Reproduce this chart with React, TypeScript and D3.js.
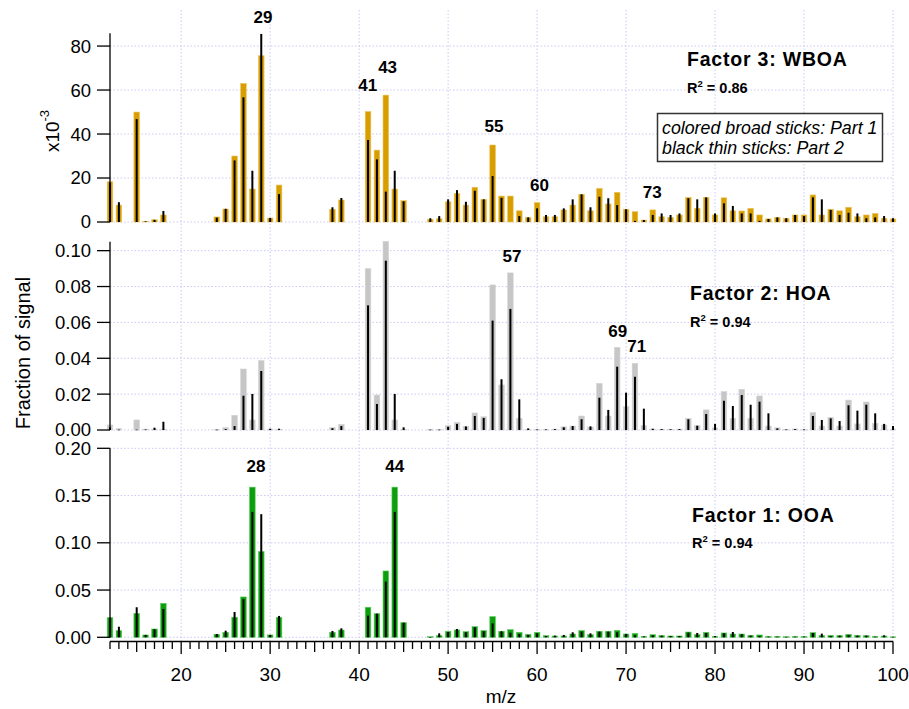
import * as React from "react";
import * as d3 from "d3";

// m/z values that carry a signal (everything else is empty)
const MZ = [
  12, 13, 15, 16, 17, 18, 24, 25, 26, 27, 28, 29, 30, 31, 37, 38, 41, 42, 43, 44, 45,
  48, 49, 50, 51, 52, 53, 54, 55, 56, 57, 58, 59, 60, 61, 62, 63, 64, 65, 66, 67, 68, 69, 70,
  71, 72, 73, 74, 75, 76, 77, 78, 79, 80, 81, 82, 83, 84, 85, 86, 87, 88, 89, 90,
  91, 92, 93, 94, 95, 96, 97, 98, 99, 100,
];

// Factor 3: WBOA (x10^-3)
const WBOA_PART1 = [
  18.3, 7.7, 50, 0.3, 1, 3.2, 2.3, 5.9, 30, 63, 15, 75.6, 1.8, 16.8, 5.8, 10, 50.2, 32.7, 57.7, 15, 9.7,
  1.2, 1.5, 9.2, 13, 7.7, 15.8, 10.3, 35, 11.8, 11.8, 5.1, 2.1, 8.8, 2.4, 2.4, 5.5, 7.7, 12.6, 5.1, 15.3, 8.2, 13.5, 5.8,
  4.7, 0.9, 5.5, 2.4, 2.1, 3.2, 11.2, 6.2, 11.2, 3.2, 11, 5.1, 5, 6.2, 3.2, 1.4, 2.1, 1.7, 3.2, 3.2,
  12.3, 3.2, 5.8, 5.1, 6.7, 2.4, 3.2, 3.9, 1.7, 1.4,
];
const WBOA_PART2 = [
  18, 9, 46.8, 0.3, 1, 5, 2, 6, 28, 56.7, 23.3, 85.5, 1.8, 12.7, 6.7, 10.9, 37.3, 28.5, 13.8, 23.3, 9.4,
  1.7, 2.7, 10.3, 14.5, 9.2, 14.2, 10.3, 20.9, 11, 0, 2.7, 2.1, 6.2, 3.2, 3.2, 6.2, 10.3, 12.6, 6.7, 11.5, 10.8, 7.7, 5.8,
  0.5, 0.9, 3.2, 3.9, 3.2, 3.9, 10.8, 10.3, 11.2, 3.9, 8.5, 7.3, 3.9, 3.9, 0.5, 1.4, 2.1, 1.7, 3.2, 2.7,
  11.2, 10.3, 5.5, 3.2, 4.2, 3.9, 1.7, 2.1, 2.7, 1.7,
];

// Factor 2: HOA
const HOA_PART1 = [
  0.0028, 0.0008, 0.0056, 0.0005, 0.0005, 0.0005, 0.0004, 0.0013, 0.0082, 0.034, 0.0056, 0.0387, 0.0005, 0.0003, 0.0013, 0.0032, 0.09, 0.0195, 0.1052, 0.0056, 0.0003,
  0.0003, 0.0004, 0.0024, 0.0043, 0.002, 0.0095, 0.0074, 0.0809, 0.0251, 0.0876, 0.0065, 0.0003, 0.0003, 0.0003, 0.0005, 0.0018, 0.0022, 0.0078, 0.0017, 0.026, 0.0078, 0.0461, 0.013,
  0.0372, 0.0024, 0.0005, 0.0005, 0.0004, 0.0005, 0.0065, 0.0024, 0.0112, 0.0012, 0.0214, 0.0065, 0.0227, 0.0065, 0.019, 0.0022, 0.0012, 0.0003, 0.0006, 0.0003,
  0.0097, 0.0022, 0.0071, 0.0022, 0.0167, 0.0034, 0.0156, 0.0037, 0.0028, 0.0005,
];
const HOA_PART2 = [
  0.0015, 0.0002, 0.0002, 0.0003, 0.0013, 0.0046, 0.0002, 0.0005, 0.0022, 0.0191, 0.0201, 0.0329, 0.0007, 0.0007, 0.001, 0.0022, 0.0695, 0.0145, 0.0944, 0.0201, 0.0015,
  0.0002, 0.0002, 0.0018, 0.0034, 0.002, 0.0078, 0.0067, 0.061, 0.0283, 0.0675, 0.0171, 0.0009, 0.0003, 0.0003, 0.0005, 0.0015, 0.0022, 0.006, 0.002, 0.018, 0.0112, 0.0353, 0.0208,
  0.0297, 0.0119, 0.0007, 0.0005, 0.0004, 0.0005, 0.006, 0.0024, 0.0089, 0.0034, 0.0163, 0.0134, 0.0195, 0.0141, 0.0158, 0.0093, 0.0009, 0.0003, 0.0005, 0.0003,
  0.0078, 0.0056, 0.0065, 0.005, 0.0138, 0.0108, 0.0141, 0.0093, 0.0034, 0.0022,
];

// Factor 1: OOA
const OOA_PART1 = [
  0.0208, 0.007, 0.0254, 0.0025, 0.0088, 0.036, 0.0032, 0.0053, 0.0212, 0.0427, 0.1589, 0.0907, 0.0025, 0.0212, 0.0053, 0.0077, 0.0318, 0.025, 0.0702, 0.1589, 0.0155,
  0.0007, 0.0018, 0.0064, 0.0078, 0.006, 0.0113, 0.0071, 0.0219, 0.0064, 0.0081, 0.0053, 0.0032, 0.0053, 0.0018, 0.0014, 0.0014, 0.0035, 0.0071, 0.0028, 0.0064, 0.0064, 0.0074, 0.0035,
  0.0042, 0.001, 0.0028, 0.0018, 0.0014, 0.0014, 0.0056, 0.0028, 0.0053, 0.001, 0.0046, 0.0035, 0.0035, 0.0021, 0.0025, 0.001, 0.001, 0.0007, 0.001, 0.001,
  0.0049, 0.0018, 0.0021, 0.0018, 0.0032, 0.0021, 0.0018, 0.001, 0.0014, 0.0005,
];
const OOA_PART2 = [
  0.0208, 0.0112, 0.0318, 0.0025, 0.0085, 0.03, 0.0035, 0.007, 0.0268, 0.0403, 0.1327, 0.1303, 0.0025, 0.0226, 0.0067, 0.0095, 0.0229, 0.025, 0.0589, 0.1327, 0.0155,
  0.0002, 0.0042, 0.0056, 0.0088, 0.0053, 0.0106, 0.0064, 0.0148, 0.0064, 0.0049, 0.0035, 0.0025, 0.0042, 0.0014, 0.0018, 0.0025, 0.0053, 0.006, 0.0042, 0.006, 0.006, 0.0053, 0.0035,
  0.0021, 0.001, 0.0021, 0.0018, 0.0014, 0.0014, 0.0049, 0.0046, 0.0046, 0.0014, 0.0042, 0.0056, 0.0032, 0.0018, 0.0014, 0.0007, 0.0007, 0.0005, 0.0007, 0.0007,
  0.0046, 0.0039, 0.0014, 0.0018, 0.0025, 0.0018, 0.0018, 0.0007, 0.0021, 0.0005,
];

// peak labels: [m/z anchor, label value anchor, text]
const WBOA_PEAKS: [number, number, string][] = [
  [29.2, 90.3, "29"], [40.96, 59.7, "41"], [43.2, 67.9, "43"], [55.15, 40.8, "55"], [60.28, 14.2, "60"], [72.95, 11, "73"],
];
const HOA_PEAKS: [number, number, string][] = [
  [57.17, 0.0937, "57"], [69.07, 0.052, "69"], [71.2, 0.0437, "71"],
];
const OOA_PEAKS: [number, number, string][] = [
  [28.4, 0.1748, "28"], [43.99, 0.1748, "44"],
];

const WBOA_TICKS = [0, 20, 40, 60, 80];
const HOA_TICKS = [0, 0.02, 0.04, 0.06, 0.08, 0.1];
const OOA_TICKS = [0, 0.05, 0.1, 0.15, 0.2];
const X_LABELS = [20, 30, 40, 50, 60, 70, 80, 90, 100];

const FONT = "'Liberation Sans', Arial, Helvetica, sans-serif";
const GRID = "#c9c9f6";

const x = d3.scaleLinear().domain([12, 100]).range([110, 893]);

interface Panel {
  id: string;
  part1: number[];
  part2: number[];
  fill: string;
  edge: string;
  y: d3.ScaleLinear<number, number>;
  ticks: number[];
  fmt: (v: number) => string;
  peaks: [number, number, string][];
  title: string;
  r2: string;
  titleX: number;
  titleY: number;
}

const panels: Panel[] = [
  {
    id: "wboa", part1: WBOA_PART1, part2: WBOA_PART2, fill: "#d89e00", edge: "#eac35c",
    y: d3.scaleLinear().domain([0, 85.8]).range([222, 33.3]),
    ticks: WBOA_TICKS, fmt: d3.format("d"), peaks: WBOA_PEAKS,
    title: "Factor 3: WBOA", r2: "0.86", titleX: 687, titleY: 66,
  },
  {
    id: "hoa", part1: HOA_PART1, part2: HOA_PART2, fill: "#c6c6c6", edge: "#d4d4d4",
    y: d3.scaleLinear().domain([0, 0.105]).range([430, 241.7]),
    ticks: HOA_TICKS, fmt: d3.format(".2f"), peaks: HOA_PEAKS,
    title: "Factor 2: HOA", r2: "0.94", titleX: 690, titleY: 300,
  },
  {
    id: "ooa", part1: OOA_PART1, part2: OOA_PART2, fill: "#0d9e0d", edge: "#5ccb5c",
    y: d3.scaleLinear().domain([0, 0.2]).range([637.3, 448.3]),
    ticks: OOA_TICKS, fmt: d3.format(".2f"), peaks: OOA_PEAKS,
    title: "Factor 1: OOA", r2: "0.94", titleX: 692, titleY: 521.7,
  },
];

export default function App() {
  const axisY = 641.5;
  return (
    <svg
      width={909}
      height={709}
      style={{ position: "absolute", left: 0, top: 0, background: "#fff" }}
      fontFamily={FONT}
    >
      {/* vertical grid */}
      {X_LABELS.map((t) => (
        <line key={`vg-${t}`} x1={x(t)} x2={x(t)} y1={10} y2={axisY} stroke={GRID} strokeDasharray="1.5 2" />
      ))}

      {panels.map((p) => {
        const [y0, y1] = p.y.range();
        return (
          <g key={p.id}>
            {p.ticks.map((t) => (
              <line key={`hg-${t}`} x1={110} x2={893} y1={p.y(t)} y2={p.y(t)} stroke={GRID} strokeDasharray="1.5 2" />
            ))}
            {/* broad coloured sticks (Part 1) */}
            {MZ.map((m, i) => {
              const v = p.part1[i];
              const top = p.y(v);
              return (
                <rect key={`a-${m}`} x={x(m) - 2.8} y={top} width={5.6} height={Math.max(0.6, y0 - top)}
                  fill={p.fill} stroke={p.edge} strokeWidth={0.6} />
              );
            })}
            {/* thin black sticks (Part 2) */}
            {MZ.map((m, i) => {
              const v = p.part2[i];
              if (!v) return null;
              const top = p.y(v);
              return <rect key={`b-${m}`} x={x(m) - 1} y={top} width={2} height={Math.max(0.6, y0 - top)} fill="#000" />;
            })}
            {/* left axis */}
            <line x1={110} x2={110} y1={y0} y2={y1} stroke="#000" strokeWidth={1.3} />
            {p.ticks.map((t) => (
              <g key={`yt-${t}`}>
                <line x1={97} x2={110} y1={p.y(t)} y2={p.y(t)} stroke="#000" strokeWidth={1.3} />
                <text x={91} y={p.y(t)} dy="0.35em" textAnchor="end" fontSize={18.5}>{p.fmt(t)}</text>
              </g>
            ))}
            {p.peaks.map(([m, v, s]) => (
              <text key={`pk-${s}`} x={x(m)} y={p.y(v)} textAnchor="middle" fontSize={17} fontWeight="bold">{s}</text>
            ))}
            <text x={p.titleX} y={p.titleY} fontSize={19.5} fontWeight="bold" letterSpacing={0.8}>{p.title}</text>
            <text x={p.titleX} y={p.titleY + 26.5} fontSize={14.5} fontWeight="bold">
              R<tspan dy={-6} fontSize={9.5}>2</tspan><tspan dy={6}> = {p.r2}</tspan>
            </text>
          </g>
        );
      })}

      {/* legend note */}
      <rect x={657.5} y={113.5} width={225} height={48} fill="#fff" stroke="#333" strokeWidth={1.5} />
      <text x={662} y={134.3} fontSize={17.8} fontStyle="italic">colored broad sticks: Part 1</text>
      <text x={662} y={154} fontSize={17.8} fontStyle="italic">black thin sticks: Part 2</text>

      {/* bottom axis */}
      <line x1={110} x2={893} y1={axisY} y2={axisY} stroke="#000" strokeWidth={1.3} />
      {d3.range(12, 101).map((t) => (
        <line key={`xt-${t}`} x1={x(t)} x2={x(t)} y1={axisY}
          y2={axisY + (t % 10 === 0 ? 12.5 : t % 5 === 0 ? 10.5 : 7.5)} stroke="#000" strokeWidth={1.3} />
      ))}
      {X_LABELS.map((t) => (
        <text key={`xl-${t}`} x={x(t)} y={680.7} textAnchor="middle" fontSize={19}>{t}</text>
      ))}
      <text x={501} y={703} textAnchor="middle" fontSize={19}>m/z</text>

      {/* y titles */}
      <text transform="translate(59,131) rotate(-90)" textAnchor="middle" fontSize={19}>
        x10<tspan dy={-10} fontSize={13}>-3</tspan>
      </text>
      <text transform="translate(30,353) rotate(-90)" textAnchor="middle" fontSize={20}>Fraction of signal</text>
    </svg>
  );
}
